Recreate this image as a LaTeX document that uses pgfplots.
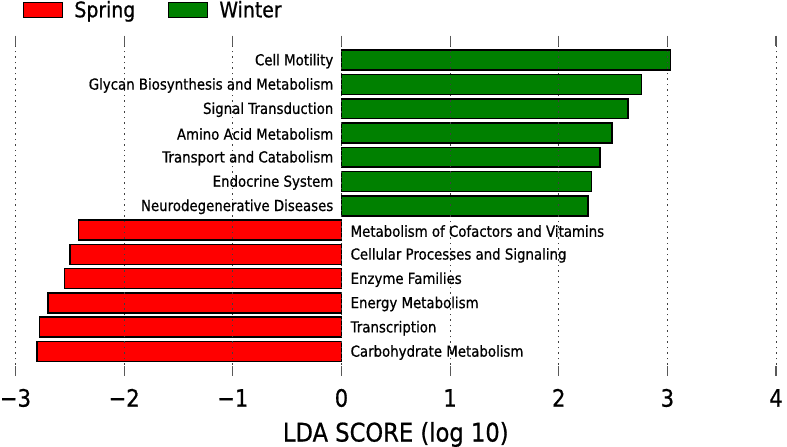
\documentclass[border=0pt]{standalone}
\usepackage{pgfplots}
\usepackage{pgfplotstable}
\pgfplotsset{compat=1.18}
\usepackage{fontspec}
\setmainfont{DejaVu Sans}[FakeStretch=0.88, FakeBold=0.7]
\definecolor{mgreen}{rgb}{0,0.5,0}
\newcommand\barfont{\fontsize{15.2}{18}\selectfont}
\newcommand\tickfont{\fontsize{24}{28}\selectfont}
\newcommand\xlfont{\fontsize{25.8}{30}\selectfont}
\newcommand\legfont{\fontsize{21.5}{25}\selectfont}

\pgfplotstableread[col sep=comma]{
idx,value,label
0,-2.80,Carbohydrate Metabolism
1,-2.78,Transcription
2,-2.70,Energy Metabolism
3,-2.55,Enzyme Families
4,-2.50,Cellular Processes and Signaling
5,-2.42,Metabolism of Cofactors and Vitamins
}\spring
\pgfplotstableread[col sep=comma]{
idx,value,label
6,2.27,Neurodegenerative Diseases
7,2.30,Endocrine System
8,2.38,Transport and Catabolism
9,2.49,Amino Acid Metabolism
10,2.64,Signal Transduction
11,2.76,Glycan Biosynthesis and Metabolism
12,3.03,Cell Motility
}\winter

\begin{document}
\begin{tikzpicture}
\begin{axis}[
  scale only axis,
  width=763pt, height=341pt,
  xmin=-3, xmax=4, ymin=-1, ymax=13,
  xtick={-3,-2,-1,0,1,2,3,4},
  xticklabels={−3,−2,−1,0,1,2,3,4},
  ytick=\empty,
  separate axis lines,
  axis line style={draw=none},
  tick pos=both, xticklabel pos=lower,
  tick align=inside,
  major tick length=10pt,
  every tick/.style={black!65, line width=1.2pt},
  xmajorgrids,
  major grid style={black!75, line width=0.9pt, dash pattern=on 1.5pt off 4pt},
  axis on top,
  xticklabel style={font=\tickfont, anchor=base, inner sep=0pt, yshift=-31pt},
  xlabel={LDA SCORE (log 10)},
  xlabel style={font=\xlfont, at={(axis description cs:0.5,0)}, anchor=base, inner sep=0pt, yshift=-66pt},
  legend columns=2,
  legend style={at={(axis description cs:0,1)}, anchor=north west, xshift=7.7pt, yshift=35pt,
    draw=none, fill=none, inner sep=0pt, outer sep=0pt, font=\legfont,
    nodes={inner sep=0pt}, cells={anchor=west},
    /tikz/every even column/.append style={column sep=33pt}},
]
\addplot[xbar, bar shift=0pt, bar width=20pt, fill=red, draw=black, line width=1.6pt,
  legend image code/.code={\draw[fill=red, draw=black, line width=1.2pt] (0pt,-7.5pt) rectangle (38.5pt,7.5pt); \path (50pt,0pt);}]
  table[x=value, y=idx] {\spring};
\addlegendentry{Spring}
\addplot[xbar, bar shift=0pt, bar width=20pt, fill=mgreen, draw=black, line width=1.6pt,
  legend image code/.code={\draw[fill=mgreen, draw=black, line width=1.2pt] (0pt,-7.5pt) rectangle (38.5pt,7.5pt); \path (50pt,0pt);}]
  table[x=value, y=idx] {\winter};
\addlegendentry{Winter}
\addplot[forget plot, only marks, mark=none, nodes near coords, point meta=explicit symbolic,
  nodes near coords style={font=\barfont, anchor=west, inner sep=0pt, xshift=9pt, yshift=-1pt}]
  table[x expr=0, y=idx, meta=label] {\spring};
\addplot[forget plot, only marks, mark=none, nodes near coords, point meta=explicit symbolic,
  nodes near coords style={font=\barfont, anchor=east, inner sep=0pt, xshift=-8pt, yshift=-1pt}]
  table[x expr=0, y=idx, meta=label] {\winter};
\end{axis}
\path ([xshift=-13pt,yshift=-68pt]current axis.south west) rectangle ([xshift=11pt,yshift=36pt]current axis.north east);
\end{tikzpicture}
\end{document}
